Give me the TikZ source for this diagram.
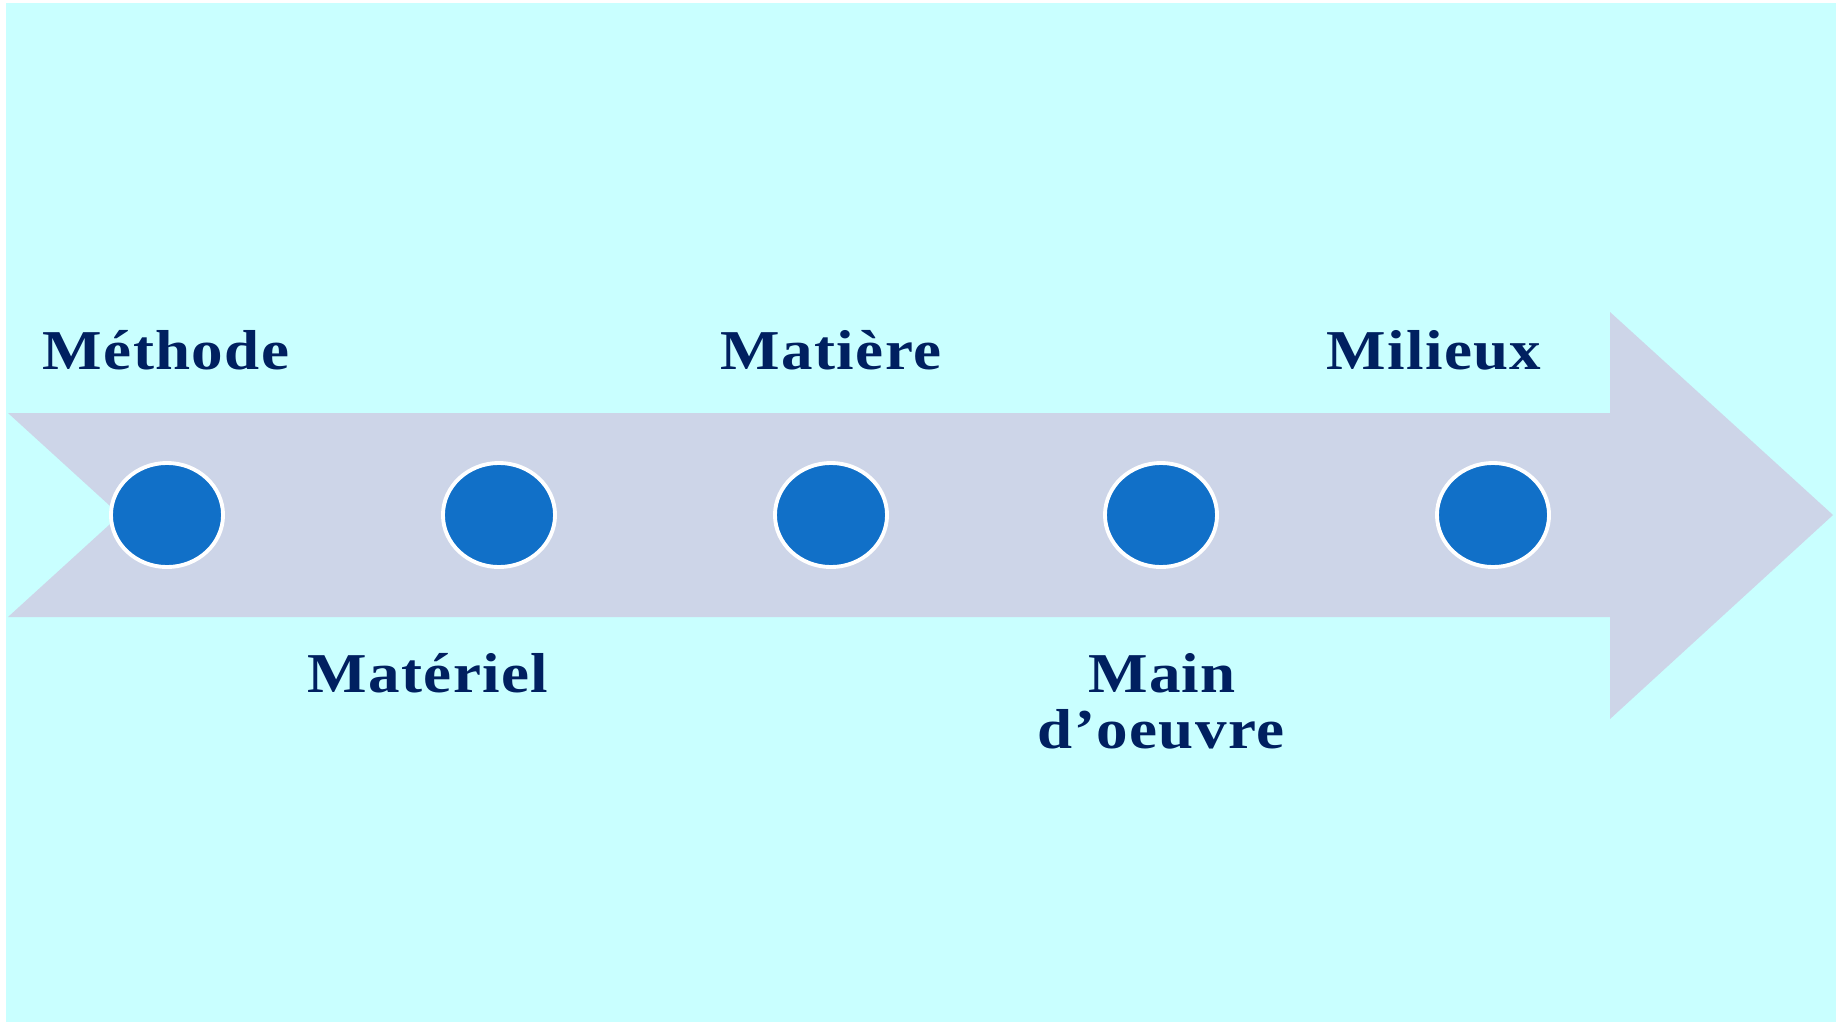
\documentclass[tikz,border=0pt]{standalone}
\usepackage{fontspec}
\setmainfont{Liberation Serif}
\usetikzlibrary{shapes.geometric}
\definecolor{bgcyan}{HTML}{C9FFFF}
\definecolor{arrowgrey}{HTML}{CDD5E8}
\definecolor{dotblue}{HTML}{1170C8}
\definecolor{navy}{HTML}{002060}
\newfontfamily\labelfont[FakeStretch=1.12, LetterSpace=2.5]{Liberation Serif}
\tikzset{
  dot/.style={ellipse, fill=dotblue, draw=white, line width=1.1pt,
    minimum width=1.12cm, minimum height=1.04cm, inner sep=0pt},
  lbl/.style={text=navy, font=\labelfont\bfseries\fontsize{16}{20}\selectfont,
    inner sep=0pt, align=center},
}
\begin{document}
\begin{tikzpicture}[x=0.01cm, y=-0.01cm]
  % page and background
  \fill[white] (0,0) rectangle (1837,1024);
  \useasboundingbox (0,0) rectangle (1837,1024);
  \fill[bgcyan] (6,3) rectangle (1836,1022);
  % chevron arrow
  \fill[arrowgrey] (8,413) -- (1610,413) -- (1610,312) -- (1833,515)
    -- (1610,719) -- (1610,617) -- (8,617) -- (120,515) -- cycle;
  % milestones
  \node[dot] (d1) at (167,515) {};
  \node[dot] (d2) at (499,515) {};
  \node[dot] (d3) at (831,515) {};
  \node[dot] (d4) at (1161,515) {};
  \node[dot] (d5) at (1493,515) {};
  % labels
  \node[lbl, anchor=base] (l1) at (166,369) {Méthode};
  \node[lbl, anchor=base] (l3) at (831,369) {Matière};
  \node[lbl, anchor=base] (l5) at (1434,369) {Milieux};
  \node[lbl, anchor=base] (l2) at (428,692) {Matériel};
  \node[lbl, anchor=base] (l4a) at (1162,692) {Main};
  \node[lbl, anchor=base] (l4b) at (1161,748) {d’oeuvre};
\end{tikzpicture}
\end{document}
